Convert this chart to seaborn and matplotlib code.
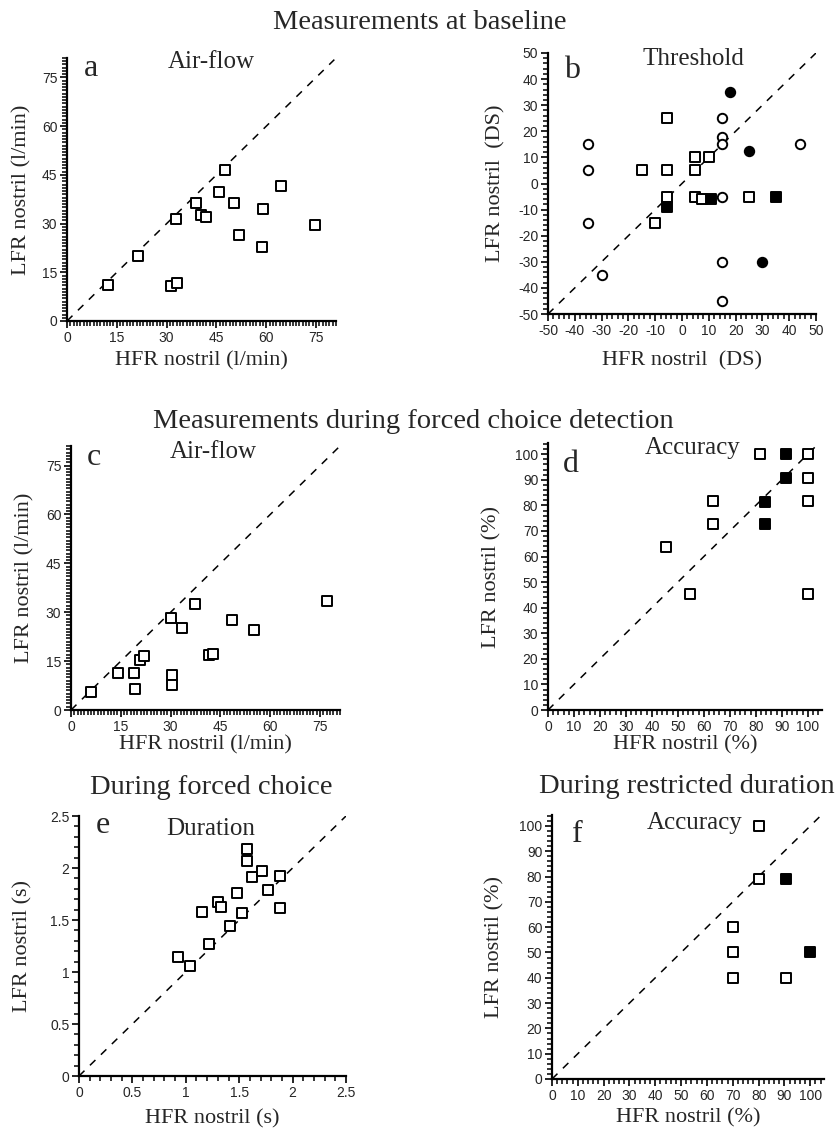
import pandas as pd
import matplotlib.pyplot as plt
from matplotlib.ticker import MultipleLocator, FuncFormatter
import seaborn as sns

W, H = 838, 1130

# a: air-flow at baseline (l/min)
a_hfr = [12.3, 21.4, 31.4, 33.0, 32.7, 38.9, 40.2, 41.9, 45.7, 47.6, 50.3, 51.7, 58.7, 59.0, 64.5, 74.8]
a_lfr = [11.0, 19.9, 10.8, 11.8, 31.5, 36.4, 32.5, 32.0, 39.7, 46.6, 36.4, 26.4, 22.8, 34.6, 41.5, 29.7]

# b: threshold at baseline (DS), four symbol groups
b_oc_hfr = [-35, -35, -35, -30, 15, 15, 15, 15, 15, 15, 44]
b_oc_lfr = [15, 5, -15, -35, 25, 18, 15, -5, -30, -45, 15]
b_fc_hfr = [18, 25, 30]
b_fc_lfr = [35, 12.5, -30]
b_os_hfr = [-5.5, -15, -5.5, -5.5, -10, 5, 5, 5, 10, 7.5, 25]
b_os_lfr = [25, 5, 5, -5, -15, 10, 5, -5, 10, -6, -5]
b_fs_hfr = [-5.5, 11, 35]
b_fs_lfr = [-9, -6, -5]

# c: air-flow during forced choice detection (l/min)
c_hfr = [5.9, 14.2, 18.9, 19.2, 20.9, 21.9, 30.2, 30.5, 30.3, 33.4, 37.4, 41.7, 42.7, 48.5, 55.2, 77.2]
c_lfr = [5.4, 11.2, 11.2, 6.4, 15.3, 16.6, 28.1, 10.6, 7.7, 25.2, 32.4, 16.8, 17.3, 27.6, 24.5, 33.5]

# d: accuracy during forced choice detection (%)
d_open_hfr = [81.8, 100, 100, 100, 63.6, 63.6, 45.5, 54.5, 100]
d_open_lfr = [100, 100, 90.9, 81.8, 81.8, 72.7, 63.6, 45.5, 45.5]
d_fill_hfr = [91.6, 91.6, 83.7, 83.7]
d_fill_lfr = [100, 90.9, 81.5, 72.6]

# e: duration during forced choice (s)
e_hfr = [0.93, 1.04, 1.22, 1.155, 1.30, 1.327, 1.414, 1.477, 1.53, 1.571, 1.577, 1.618, 1.718, 1.774, 1.884, 1.884]
e_lfr = [1.147, 1.058, 1.269, 1.58, 1.67, 1.628, 1.446, 1.756, 1.564, 2.18, 2.067, 1.91, 1.974, 1.788, 1.926, 1.612]

# f: accuracy during restricted duration (%)
f_open_hfr = [80, 80, 70, 70, 70, 90.5]
f_open_lfr = [100, 79, 60, 50, 40, 40]
f_fill_hfr = [90.5, 100]
f_fill_lfr = [79, 50]

sns.set_style("ticks")
plt.rcParams['font.family'] = ['Liberation Sans', 'DejaVu Sans']
plt.rcParams['axes.unicode_minus'] = False
SERIF = ['Liberation Serif', 'DejaVu Serif']

fig = plt.figure(figsize=(W / 100, H / 100), dpi=100)


def make_axes(l, t, r, b):
    return fig.add_axes([l / W, 1 - b / H, (r - l) / W, (b - t) / H])


def ftext(px, py, s, size, ha='center', va='baseline'):
    fig.text(px / W, 1 - py / H, s, fontsize=size, family=SERIF, ha=ha, va=va)


def scatter(ax, xs, ys, marker, filled):
    df = pd.DataFrame({'hfr': xs, 'lfr': ys})
    sns.scatterplot(data=df, x='hfr', y='lfr', ax=ax, marker=marker, s=46,
                    color='black' if filled else 'white', edgecolor='black',
                    linewidth=1.4, zorder=3, clip_on=False, legend=False)


def style_axes(ax, xlim, ylim, major, minor, diag, xlab, ylab, xl_py, yl_px, fmt=None):
    sns.lineplot(x=diag, y=diag, ax=ax, color='black', lw=1.1,
                 linestyle=(0, (5, 5)), zorder=2)
    ax.set_xlim(*xlim)
    ax.set_ylim(*ylim)
    sns.despine(ax=ax)
    for sp in ('left', 'bottom'):
        ax.spines[sp].set_linewidth(1.6)
        ax.spines[sp].set_color('black')
    for axis in (ax.xaxis, ax.yaxis):
        axis.set_major_locator(MultipleLocator(major))
        axis.set_minor_locator(MultipleLocator(minor))
        if fmt:
            axis.set_major_formatter(fmt)
    ax.tick_params(which='major', direction='out', length=5, width=1.2,
                   labelsize=10, pad=2, color='black')
    ax.tick_params(which='minor', direction='out', length=3.5, width=1.1, color='black')
    ax.set_xlabel(xlab, fontsize=16, family=SERIF)
    ax.set_ylabel(ylab, fontsize=16, family=SERIF)
    # place labels by pixel position
    inv = ax.transAxes.inverted()
    x_ax = inv.transform((0, H - xl_py))[1]
    y_ax = inv.transform((yl_px, 0))[0]
    ax.xaxis.set_label_coords(0.5, x_ax)
    ax.yaxis.set_label_coords(y_ax, 0.5)
    ax.xaxis.label.set_va('center')
    ax.yaxis.label.set_va('center')


# titles
ftext(420, 29, 'Measurements at baseline', 20.5)
ftext(413, 428, 'Measurements during forced choice detection', 20.5)
ftext(211, 794, 'During forced choice', 20.5)
ftext(687, 793, 'During restricted duration', 20.5)

# panel a
ax = make_axes(67, 58, 336, 321)
scatter(ax, a_hfr, a_lfr, 's', False)
style_axes(ax, (0, 81), (0, 81), 15, 1, [0, 80.5], 'HFR nostril (l/min)',
           'LFR nostril (l/min)', 361, 22)
ftext(91, 76, 'a', 23)
ftext(211, 68, 'Air-flow', 18)

# panel b
ax = make_axes(548, 53, 816, 314)
scatter(ax, b_oc_hfr, b_oc_lfr, 'o', False)
scatter(ax, b_fc_hfr, b_fc_lfr, 'o', True)
scatter(ax, b_os_hfr, b_os_lfr, 's', False)
scatter(ax, b_fs_hfr, b_fs_lfr, 's', True)
style_axes(ax, (-50, 50), (-50, 50), 10, 2, [-50, 50], 'HFR nostril  (DS)',
           'LFR nostril  (DS)', 361, 496)
ftext(572, 78, 'b', 23)
ftext(693, 65, 'Threshold', 18)

# panel c
ax = make_axes(71, 446, 340, 710)
scatter(ax, c_hfr, c_lfr, 's', False)
style_axes(ax, (0, 81), (0, 81), 15, 1, [0, 80.5], 'HFR nostril (l/min)',
           'LFR nostril (l/min)', 745, 25)
ftext(94, 465, 'c', 23)
ftext(213, 458, 'Air-flow', 18)

# panel d
ax = make_axes(548, 443, 822, 710)
scatter(ax, d_open_hfr, d_open_lfr, 's', False)
scatter(ax, d_fill_hfr, d_fill_lfr, 's', True)
style_axes(ax, (0, 105.5), (0, 104.4), 10, 2, [0, 103], 'HFR nostril (%)',
           'LFR nostril (%)', 745, 492)
ftext(571, 472, 'd', 23)
ftext(693, 454, 'Accuracy', 18)

# panel e
ax = make_axes(79, 816, 346, 1076)
scatter(ax, e_hfr, e_lfr, 's', False)
style_axes(ax, (0, 2.5), (0, 2.5), 0.5, 0.1, [0, 2.5], 'HFR nostril (s)',
           'LFR nostril (s)', 1119, 23, FuncFormatter(lambda v, p: f"{v:g}"))
ftext(103, 833, 'e', 23)
ftext(211, 835, 'Duration', 18)

# panel f
ax = make_axes(552, 815, 824, 1079)
scatter(ax, f_open_hfr, f_open_lfr, 's', False)
scatter(ax, f_fill_hfr, f_fill_lfr, 's', True)
style_axes(ax, (0, 105.3), (0, 104.3), 10, 2, [0, 103.5], 'HFR nostril (%)',
           'LFR nostril (%)', 1118, 495)
ftext(577, 842, 'f', 23)
ftext(695, 829, 'Accuracy', 18)

fig.savefig('out.png', dpi=100)
